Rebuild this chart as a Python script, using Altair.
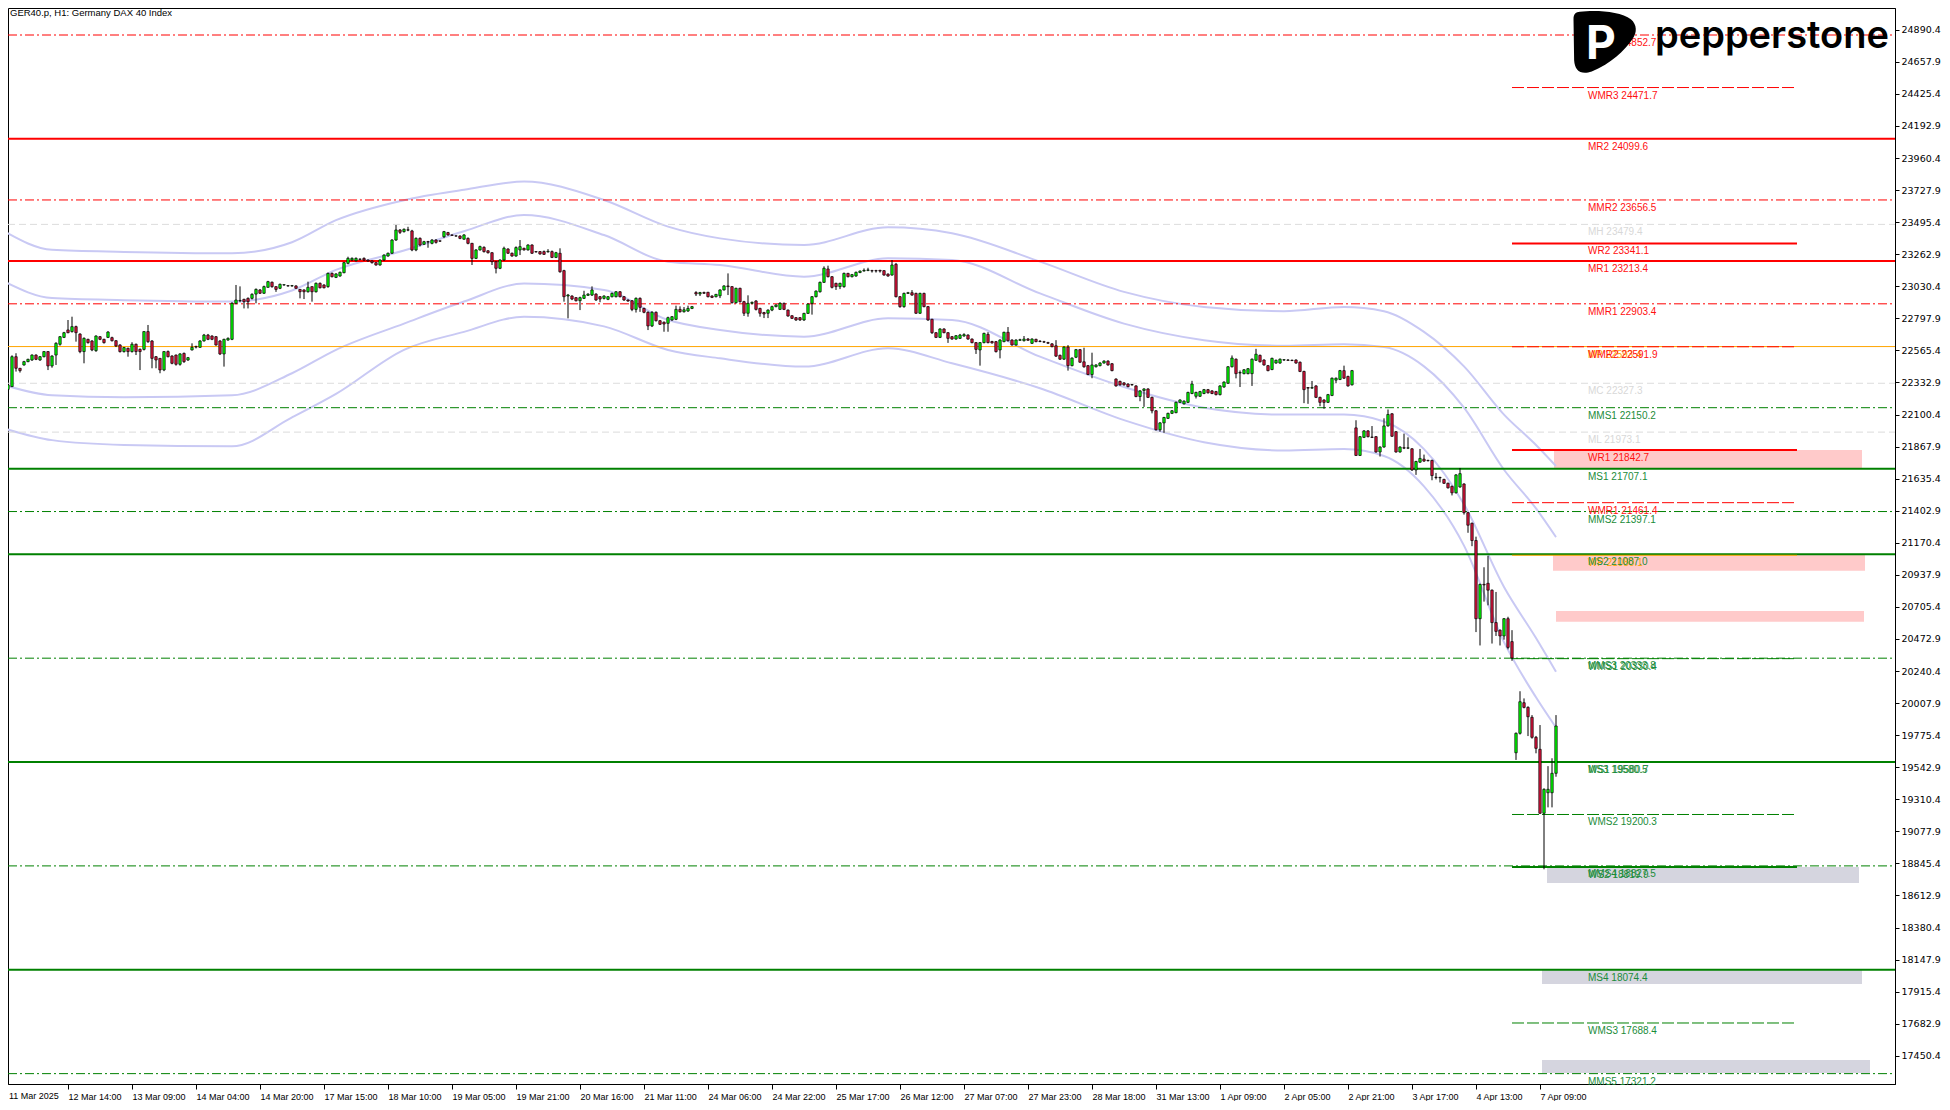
import json
import altair as alt
import pandas as pd

# ---------------- candle data (H1 bars, index 0 = first bar) ----------------
opens = [
    22340, 22283, 22303, 22520, 22436, 22460, 22484, 22496, 22532, 22496,
    22520, 22557, 22453, 22532, 22610, 22660, 22714, 22702, 22738, 22684,
    22557, 22646, 22634, 22564, 22665, 22646, 22660, 22658, 22636, 22605,
    22557, 22581, 22557, 22610, 22573, 22573, 22702, 22634, 22520, 22508,
    22424, 22557, 22525, 22532, 22465, 22544, 22496, 22569, 22593, 22588,
    22634, 22677, 22670, 22665, 22634, 22540, 22641, 22646, 22907, 22926,
    22936, 22943, 22943, 22974, 23004, 22980, 23023, 23060, 23028, 23016,
    23040, 23035, 23033, 23033, 23008, 23004, 22991, 23028, 22991, 23052,
    23040, 23028, 23124, 23095, 23105, 23129, 23197, 23221, 23216, 23228,
    23233, 23221, 23214, 23202, 23185, 23221, 23250, 23270, 23366, 23439,
    23427, 23440, 23432, 23294, 23378, 23335, 23354, 23342, 23366, 23360,
    23390, 23420, 23403, 23396, 23395, 23372, 23378, 23342, 23233, 23294,
    23313, 23288, 23274, 23209, 23161, 23221, 23301, 23270, 23250,
    23294, 23306, 23294, 23330, 23282, 23282, 23282, 23280, 23282, 23240,
    23270, 23144, 22960, 22960, 22948, 22926, 22943, 22965, 22967, 22974,
    22955, 22943, 22936, 22955, 22955, 22991, 22955, 22931, 22926, 22863,
    22943, 22870, 22842, 22743, 22842, 22781, 22770, 22762, 22786, 22791,
    22863, 22846, 22851, 22870, 22985, 22975, 22985, 22987, 22960, 22955,
    22962, 23004, 23033, 23028, 22912, 23016, 22919, 22835, 22907, 22924,
    22870, 22840, 22835, 22858, 22883, 22863, 22907, 22858, 22817, 22803,
    22803, 22786, 22834, 22907, 22955, 22991, 23059, 23156, 23100, 23052,
    23028, 23028, 23124, 23100, 23105, 23130, 23141, 23146, 23144, 23144,
    23146, 23144, 23119, 23112, 23190, 22955, 22883, 22979, 22984, 22979,
    22835, 22979, 22883, 22791, 22694, 22660, 22721, 22694, 22665, 22648,
    22653, 22670, 22677, 22648, 22622, 22569, 22622, 22682, 22630, 22629,
    22569, 22629, 22697, 22641, 22605, 22639, 22636, 22648, 22617, 22646,
    22632, 22628, 22622, 22613, 22599, 22530, 22502, 22590, 22455, 22516,
    22571, 22483, 22455, 22391, 22447, 22455, 22474, 22488, 22469, 22358,
    22341, 22330, 22322, 22318, 22308, 22231, 22275, 22286, 22225, 22128,
    21990, 22040, 22073, 22109, 22114, 22189, 22178, 22189, 22253, 22233,
    22233, 22253, 22281, 22272, 22267, 22245, 22300, 22327, 22447, 22502,
    22402, 22397, 22397, 22397, 22494, 22530, 22496, 22455, 22427, 22474,
    22474, 22496, 22496, 22494, 22496, 22480, 22413, 22296, 22292, 22308,
    22225, 22206, 22189, 22239, 22350, 22355, 22419, 22377, 22316, 22004,
    21804, 21935, 21982, 21937, 21940, 21829, 21865, 22018, 22106, 21976,
    21829, 21860, 21857, 21852, 21699, 21755, 21777, 21768, 21768, 21646,
    21644, 21630, 21602, 21580, 21533, 21575, 21597, 21389, 21312, 21187,
    20620, 20869, 20877, 20827, 20592, 20537, 20495, 20620, 20454, 19648,
    19789, 20011, 19977, 19905, 19760, 19673, 19209, 19358, 19358, 19499,
]
highs = [
    22350, 22315, 22530, 22545, 22436, 22490, 22505, 22537, 22537, 22525,
    22560, 22560, 22530, 22625, 22670, 22700, 22786, 22810, 22745, 22690,
    22660, 22650, 22640, 22675, 22670, 22650, 22705, 22665, 22640, 22610,
    22590, 22585, 22625, 22615, 22580, 22705, 22750, 22640, 22525, 22510,
    22560, 22565, 22530, 22535, 22545, 22550, 22518, 22617, 22600, 22640,
    22685, 22685, 22675, 22670, 22640, 22650, 22660, 22915, 23040, 23030,
    22940, 22950, 22980, 23015, 23010, 23035, 23070, 23065, 23030, 23050,
    23045, 23038, 23040, 23038, 23010, 23008, 23064, 23030, 23058, 23058,
    23045, 23130, 23130, 23125, 23137, 23207, 23245, 23240, 23240, 23232,
    23240, 23225, 23218, 23205, 23225, 23262, 23275, 23372, 23475, 23445,
    23450, 23462, 23440, 23385, 23385, 23360, 23360, 23372, 23372, 23362,
    23432, 23425, 23406, 23400, 23400, 23408, 23385, 23345, 23300, 23325,
    23320, 23292, 23278, 23212, 23226, 23318, 23306, 23275, 23320,
    23366, 23310, 23335, 23335, 23285, 23286, 23290, 23300, 23290, 23280,
    23306, 23150, 22975, 22965, 22952, 22955, 22998, 22980, 23030, 22980,
    22960, 22965, 22960, 22985, 22995, 22995, 22960, 22935, 22930, 22950,
    22950, 22875, 22848, 22850, 22848, 22785, 22775, 22810, 22815, 22890,
    22885, 22880, 22890, 22888, 22995, 22990, 22992, 22990, 22965, 22975,
    23008, 23038, 23124, 23032, 23020, 23020, 22925, 22965, 22920, 22930,
    22875, 22845, 22863, 22890, 22900, 22915, 22912, 22862, 22820, 22807,
    22807, 22838, 22906, 22960, 23000, 23065, 23175, 23180, 23105, 23056,
    23056, 23130, 23128, 23120, 23137, 23145, 23160, 23165, 23150, 23150,
    23150, 23148, 23124, 23221, 23200, 22960, 22985, 22990, 23003, 22984,
    22984, 22984, 22888, 22795, 22698, 22726, 22726, 22698, 22670, 22677,
    22685, 22690, 22682, 22652, 22626, 22626, 22694, 22698, 22635, 22634,
    22646, 22701, 22735, 22646, 22646, 22650, 22670, 22655, 22653, 22650,
    22640, 22635, 22628, 22618, 22640, 22535, 22595, 22604, 22515, 22576,
    22576, 22585, 22460, 22549, 22465, 22480, 22494, 22494, 22474, 22363,
    22346, 22335, 22327, 22322, 22313, 22277, 22291, 22291, 22230, 22133,
    22045, 22084, 22114, 22133, 22195, 22211, 22203, 22266, 22345, 22266,
    22272, 22286, 22286, 22277, 22272, 22313, 22341, 22452, 22529, 22507,
    22420, 22430, 22438, 22507, 22577, 22535, 22501, 22460, 22513, 22499,
    22507, 22502, 22502, 22499, 22501, 22485, 22418, 22300, 22344, 22313,
    22230, 22211, 22250, 22369, 22369, 22424, 22455, 22382, 22424, 22059,
    21945, 21987, 21987, 22017, 21945, 21870, 22073, 22137, 22111, 21981,
    21870, 21962, 21935, 21857, 21765, 21851, 21810, 21773, 21773, 21677,
    21650, 21635, 21607, 21585, 21668, 21713, 21602, 21394, 21317, 21215,
    20874, 20993, 21076, 20832, 20814, 20542, 20625, 20634, 20537, 19795,
    20094, 20042, 19985, 19921, 19770, 19849, 19390, 19551, 19608, 19921,
]
lows = [
    22290, 22230, 22300, 22412, 22405, 22455, 22480, 22490, 22495, 22490,
    22515, 22423, 22440, 22460, 22600, 22655, 22690, 22695, 22629, 22545,
    22472, 22615, 22560, 22555, 22640, 22615, 22655, 22630, 22590, 22550,
    22550, 22520, 22550, 22532, 22423, 22565, 22620, 22436, 22436, 22400,
    22415, 22515, 22465, 22455, 22455, 22475, 22490, 22565, 22580, 22585,
    22630, 22640, 22640, 22600, 22532, 22448, 22635, 22640, 22900, 22915,
    22870, 22870, 22935, 22907, 22975, 22975, 23020, 23020, 22990, 23010,
    23035, 23028, 23028, 23012, 22943, 22938, 22985, 22919, 22985, 23015,
    23015, 23020, 23095, 23090, 23100, 23125, 23190, 23215, 23210, 23220,
    23215, 23210, 23195, 23180, 23180, 23215, 23245, 23265, 23360, 23410,
    23420, 23430, 23285, 23285, 23320, 23330, 23310, 23335, 23340, 23352,
    23380, 23398, 23396, 23390, 23372, 23368, 23335, 23185, 23228, 23290,
    23275, 23268, 23185, 23124, 23155, 23215, 23265, 23245, 23245,
    23257, 23290, 23290, 23265, 23275, 23260, 23258, 23275, 23235, 23235,
    23129, 22919, 22798, 22930, 22920, 22858, 22938, 22960, 22960, 22925,
    22915, 22935, 22930, 22950, 22950, 22950, 22925, 22918, 22850, 22840,
    22845, 22835, 22713, 22735, 22775, 22750, 22701, 22701, 22780, 22785,
    22840, 22840, 22845, 22865, 22960, 22960, 22975, 22950, 22945, 22950,
    22945, 23000, 22967, 22905, 22905, 22912, 22815, 22810, 22900, 22855,
    22810, 22800, 22800, 22850, 22878, 22860, 22858, 22810, 22793, 22780,
    22780, 22780, 22830, 22825, 22950, 22985, 23055, 23095, 23015, 23004,
    23010, 23020, 23095, 23095, 23100, 23126, 23138, 23140, 23130, 23130,
    23130, 23108, 23100, 23108, 22950, 22875, 22875, 22975, 22962, 22830,
    22830, 22878, 22780, 22685, 22655, 22655, 22690, 22620, 22643, 22643,
    22648, 22665, 22643, 22617, 22540, 22455, 22617, 22617, 22615, 22550,
    22508, 22625, 22630, 22600, 22600, 22635, 22630, 22635, 22612, 22625,
    22625, 22620, 22612, 22588, 22518, 22497, 22497, 22419, 22450, 22510,
    22475, 22440, 22386, 22364, 22442, 22450, 22470, 22455, 22414, 22303,
    22310, 22310, 22298, 22310, 22226, 22197, 22156, 22220, 22109, 21985,
    21976, 21968, 22068, 22104, 22110, 22184, 22173, 22184, 22248, 22217,
    22228, 22248, 22253, 22248, 22239, 22239, 22295, 22322, 22442, 22363,
    22300, 22392, 22392, 22308, 22489, 22478, 22455, 22414, 22422, 22469,
    22469, 22490, 22490, 22488, 22469, 22408, 22183, 22178, 22288, 22220,
    22161, 22142, 22184, 22234, 22327, 22350, 22358, 22303, 22311, 21800,
    21800, 21930, 21935, 21930, 21824, 21796, 21860, 22013, 21938, 21824,
    21824, 21850, 21850, 21691, 21663, 21750, 21758, 21760, 21624, 21630,
    21608, 21597, 21564, 21514, 21528, 21570, 21375, 21243, 21146, 20523,
    20426, 20744, 20717, 20440, 20495, 20426, 20468, 20398, 20315, 19596,
    19780, 19970, 19769, 19750, 19644, 19205, 18803, 19252, 19252, 19474,
]
closes = [
    22300, 22315, 22520, 22436, 22419, 22484, 22501, 22532, 22501, 22520,
    22557, 22453, 22525, 22617, 22665, 22694, 22694, 22738, 22694, 22557,
    22653, 22622, 22569, 22670, 22646, 22622, 22699, 22636, 22598, 22557,
    22586, 22557, 22610, 22557, 22557, 22702, 22629, 22508, 22496, 22424,
    22557, 22520, 22472, 22465, 22540, 22484, 22513, 22588, 22590, 22634,
    22677, 22646, 22646, 22605, 22540, 22646, 22653, 22907, 22931, 22928,
    22919, 22919, 22972, 23008, 22980, 23028, 23064, 23028, 23008, 23045,
    23042, 23033, 23035, 23016, 22991, 22991, 23023, 22991, 23052, 23020,
    23020, 23124, 23100, 23120, 23132, 23202, 23233, 23233, 23233, 23226,
    23221, 23214, 23202, 23185, 23221, 23257, 23270, 23366, 23439, 23422,
    23444, 23438, 23294, 23378, 23330, 23354, 23352, 23366, 23349, 23358,
    23427, 23403, 23400, 23395, 23378, 23403, 23342, 23233, 23294, 23318,
    23282, 23274, 23209, 23161, 23221, 23306, 23270, 23250, 23311,
    23318, 23294, 23330, 23270, 23280, 23265, 23262, 23284, 23240, 23274,
    23136, 22955, 22967, 22938, 22926, 22948, 22967, 22974, 23004, 22931,
    22938, 22960, 22955, 22979, 22991, 22955, 22931, 22924, 22863, 22943,
    22878, 22842, 22743, 22842, 22781, 22755, 22757, 22803, 22810, 22863,
    22846, 22860, 22870, 22883, 22975, 22985, 22980, 22955, 22950, 22972,
    23004, 23033, 23028, 22912, 23016, 22919, 22835, 22907, 22914, 22863,
    22835, 22830, 22858, 22883, 22895, 22907, 22863, 22815, 22798, 22786,
    22786, 22834, 22902, 22955, 22996, 23059, 23161, 23100, 23023, 23028,
    23052, 23124, 23100, 23115, 23132, 23141, 23146, 23149, 23142, 23142,
    23141, 23112, 23105, 23185, 22955, 22883, 22979, 22984, 22967, 22835,
    22979, 22883, 22786, 22694, 22660, 22721, 22694, 22653, 22648, 22672,
    22677, 22680, 22648, 22622, 22573, 22622, 22689, 22622, 22620, 22557,
    22641, 22697, 22636, 22605, 22641, 22643, 22648, 22639, 22648, 22629,
    22630, 22626, 22618, 22593, 22524, 22502, 22590, 22455, 22510, 22571,
    22480, 22447, 22391, 22460, 22460, 22474, 22488, 22460, 22419, 22308,
    22316, 22316, 22303, 22316, 22231, 22272, 22286, 22225, 22128, 21990,
    22040, 22079, 22109, 22128, 22189, 22206, 22198, 22261, 22322, 22261,
    22267, 22281, 22258, 22253, 22245, 22308, 22336, 22447, 22510, 22397,
    22405, 22425, 22433, 22502, 22538, 22483, 22460, 22419, 22508, 22494,
    22502, 22498, 22494, 22492, 22474, 22413, 22281, 22292, 22296, 22225,
    22189, 22189, 22245, 22364, 22364, 22419, 22364, 22308, 22419, 21804,
    21940, 21982, 21940, 21935, 21829, 21865, 22018, 22101, 21943, 21829,
    21865, 21857, 21859, 21699, 21760, 21782, 21763, 21766, 21658, 21644,
    21642, 21602, 21569, 21533, 21663, 21672, 21389, 21298, 21187, 20620,
    20869, 20865, 20827, 20592, 20528, 20495, 20620, 20412, 20335, 19789,
    20018, 19977, 19909, 19760, 19680, 19209, 19383, 19383, 19499, 19842,
]

# ---------------- time axis labels ----------------
tick_bars = [0, 16, 32, 48, 64, 80, 96, 112, 128, 144, 160, 176, 192, 208, 224,
             240, 256, 272, 288, 304, 320, 336, 352, 368, 384]
tick_labels = ["11 Mar 2025", "12 Mar 14:00", "13 Mar 09:00", "14 Mar 04:00", "14 Mar 20:00",
               "17 Mar 15:00", "18 Mar 10:00", "19 Mar 05:00", "19 Mar 21:00", "20 Mar 16:00",
               "21 Mar 11:00", "24 Mar 06:00", "24 Mar 22:00", "25 Mar 17:00", "26 Mar 12:00",
               "27 Mar 07:00", "27 Mar 23:00", "28 Mar 18:00", "31 Mar 13:00", "1 Apr 09:00",
               "2 Apr 05:00", "2 Apr 21:00", "3 Apr 17:00", "4 Apr 13:00", "7 Apr 09:00"]

price_ticks = [17450.4, 17682.9, 17915.4, 18147.9, 18380.4, 18612.9, 18845.4, 19077.9,
               19310.4, 19542.9, 19775.4, 20007.9, 20240.4, 20472.9, 20705.4, 20937.9,
               21170.4, 21402.9, 21635.4, 21867.9, 22100.4, 22332.9, 22565.4, 22797.9,
               23030.4, 23262.9, 23495.4, 23727.9, 23960.4, 24192.9, 24425.4, 24657.9,
               24890.4]

# ---------------- band lines (read at sample bars) ----------------
band_bars = [0, 12, 30, 57, 72, 83, 100, 115, 130, 150, 166, 179, 200, 221, 237,
             259, 280, 300, 320, 335, 345, 355, 365, 375, 383, 388]
band_outer_up = [23430, 23295, 23280, 23270, 23350, 23510, 23655, 23730, 23790, 23656, 23463,
                 23378, 23330, 23458, 23415, 23209, 22990, 22880, 22850, 22880, 22850, 22700,
                 22450, 22100, 21880, 21727]
band_inner_up = [23065, 22945, 22930, 22920, 23000, 23150, 23290, 23430, 23547, 23402, 23209,
                 23185, 23100, 23233, 23221, 22979, 22760, 22640, 22600, 22610, 22590, 22450,
                 22150, 21700, 21420, 21212]
band_inner_dn = [22315, 22240, 22225, 22240, 22400, 22570, 22760, 22920, 23050, 23004, 22786,
                 22714, 22665, 22798, 22786, 22520, 22300, 22150, 22100, 22100, 22050, 21850,
                 21450, 20850, 20480, 20236]
band_outer_dn = [22000, 21915, 21880, 21870, 22080, 22250, 22570, 22700, 22810, 22740, 22569,
                 22508, 22448, 22581, 22472, 22291, 22060, 21900, 21840, 21850, 21800, 21580,
                 21150, 20450, 20050, 19831]

# ---------------- pivot levels ----------------
m_main_names = ["MR2", "MR1", "MS1", "MS2", "MS3", "MS4"]
m_main_values = [24099.6, 23213.4, 21707.1, 21087.0, 19580.5, 18074.4]
m_mid_names = ["MMR3", "MMR2", "MMR1", "MMS1", "MMS2", "MMS3", "MMS4", "MMS5"]
m_mid_values = [24852.7, 23656.5, 22903.4, 22150.2, 21397.1, 20333.8, 18827.5, 17321.2]
m_range_names = ["MH", "MC", "ML"]
m_range_values = [23479.4, 22327.3, 21973.1]
m_pivot_names = ["MP"]
m_pivot_values = [22593.4]
w_main_names = ["WR2", "WR1", "WS1", "WS2"]
w_main_values = [23341.1, 21842.7, 19580.7, 18819.9]
w_mid_names = ["WMR3", "WMR2", "WMR1", "WMS1", "WMS2", "WMS3"]
w_mid_values = [24471.7, 22591.9, 21461.4, 20330.4, 19200.3, 17688.4]
w_pivot_names = ["WP"]
w_pivot_values = [21080.1]
week_from_bar = [377.0]
week_to_bar = [448.25]

# ---------------- zones ----------------
zone_from = [387.5, 387.25, 388.0, 385.75, 384.5, 384.5]
zone_to = [464.5, 465.25, 465.0, 463.75, 464.5, 466.5]
zone_low = [21712.8, 20968.0, 20598.0, 18703.4, 17970.9, 17325.5]
zone_high = [21843.3, 21087.0, 20676.0, 18819.4, 18079.7, 17419.8]
zone_kind = ["sell", "sell", "sell", "buy", "buy", "buy"]

title_text = "GER40.p, H1:  Germany DAX 40 Index"
brand_text = "pepperstone"

# ---------------- chart ----------------
W, H = 1887, 1076
xs = alt.Scale(domain=[1.0, 472.75], nice=False, zero=False, padding=0)
ys = alt.Scale(domain=[17246.0, 25048.5], nice=False, zero=False, padding=0)

RED, GREEN, ORANGE, GRAY = "#ff0000", "#008000", "#ffa500", "#dcdcdc"
LBL_RED, LBL_GREEN, LBL_GRAY = "#ff1010", "#1b8c3a", "#d8d8d8"

label_expr = "{}[indexof({}, datum.value)]".format(json.dumps(tick_labels), json.dumps(tick_bars))
X_AXIS = alt.Axis(values=tick_bars[1:], labelExpr=label_expr, labelAlign="left",
                  labelBaseline="top", labelPadding=3, labelFont="Liberation Sans",
                  labelFontSize=9, labelColor="black", tickColor="black", tickSize=5,
                  domainColor="black", grid=False, title=None, labelOverlap=False,
                  labelFlush=False, labelBound=False)
Y_AXIS = alt.Axis(orient="right", values=price_ticks, format=".1f", labelFont="DejaVu Sans",
                  labelFontSize=9.5, labelColor="black", tickColor="black", tickSize=4,
                  labelPadding=2, domainColor="black", grid=False, title=None,
                  labelOverlap=False, labelFlush=False, labelBound=False)


def X(field):
    return alt.X(field, scale=xs, axis=X_AXIS)


def Y(field):
    return alt.Y(field, scale=ys, axis=Y_AXIS)


def kind_of(name):
    if name in ("MP", "WP"):
        return "P"
    if name in ("MH", "MC", "ML"):
        return "N"
    return "R" if "R" in name else "S"


line_col = {"R": RED, "S": GREEN, "P": ORANGE, "N": GRAY}
text_col = {"R": LBL_RED, "S": LBL_GREEN, "P": ORANGE, "N": LBL_GRAY}

layers = []

# zones
zdf = pd.DataFrame({"a": zone_from, "b": zone_to, "lo": zone_low, "hi": zone_high, "k": zone_kind})
for k, col in (("sell", "#ffcaca"), ("buy", "#d5d5df")):
    sub = zdf[zdf.k == k]
    layers.append(alt.Chart(sub).mark_rect(color=col, clip=True).encode(
        x=X("a:Q"), x2="b:Q", y=Y("lo:Q"), y2="hi:Q"))

# bands
bdf = pd.concat([
    pd.DataFrame({"i": band_bars, "v": vals, "s": name})
    for name, vals in (("a", band_outer_up), ("b", band_inner_up),
                       ("c", band_inner_dn), ("d", band_outer_dn))
])
layers.append(alt.Chart(bdf).mark_line(color="#c9c9f4", strokeWidth=2, interpolate="monotone",
                                        clip=True).encode(
    x=X("i:Q"), y=Y("v:Q"), detail="s:N"))


def level_layers(names, values, width, dash, full):
    out = []
    df = pd.DataFrame({"name": names, "price": values})
    df["k"] = [kind_of(n) for n in names]
    for k, sub in df.groupby("k"):
        kw = dict(color=line_col[k], strokeWidth=width, clip=True)
        if dash:
            kw["strokeDash"] = dash
        if full:
            ch = alt.Chart(sub).mark_rule(**kw).encode(
                y=Y("price:Q"), x=alt.value(0), x2=alt.value(W))
        else:
            sub = sub.assign(a=week_from_bar[0], b=week_to_bar[0])
            ch = alt.Chart(sub).mark_rule(**kw).encode(
                y=Y("price:Q"), x=X("a:Q"), x2="b:Q")
        out.append(ch)
    return out


layers += level_layers(m_range_names, m_range_values, 1, [7, 4], True)
layers += level_layers(m_mid_names, m_mid_values, 1, [9, 3, 2, 3], True)
layers += level_layers(m_pivot_names, m_pivot_values, 1, None, True)
layers += level_layers(m_main_names, m_main_values, 2, None, True)
layers += level_layers(w_mid_names, w_mid_values, 1, [12, 3], False)
layers += level_layers(w_pivot_names, w_pivot_values, 1, None, False)
layers += level_layers(w_main_names, w_main_values, 2, None, False)

# candles
cdf = pd.DataFrame({"i": list(range(len(opens))), "open": opens, "high": highs,
                    "low": lows, "close": closes})
cdf["dir"] = ["up" if c >= o else "down" for o, c in zip(opens, closes)]

layers.append(alt.Chart(cdf).mark_rule(color="black", strokeWidth=1, clip=True).encode(
    x=X("i:Q"), y=Y("low:Q"), y2="high:Q"))
layers.append(alt.Chart(cdf).mark_bar(size=2.4, stroke="black", strokeWidth=0.7, clip=True).encode(
    x=X("i:Q"), y=Y("open:Q"), y2="close:Q",
    color=alt.Color("dir:N", scale=alt.Scale(domain=["up", "down"], range=["#00ff00", "#dc143c"]),
                    legend=None)))

# level labels
all_names = (m_range_names + m_mid_names + m_pivot_names + m_main_names
             + w_mid_names + w_pivot_names + w_main_names)
all_values = (m_range_values + m_mid_values + m_pivot_values + m_main_values
              + w_mid_values + w_pivot_values + w_main_values)
ldf = pd.DataFrame({"price": all_values,
                    "label": [f"{n} {v:.1f}" for n, v in zip(all_names, all_values)],
                    "k": [kind_of(n) for n in all_names]})
for k in ("N", "P", "R", "S"):
    sub = ldf[ldf.k == k]
    layers.append(alt.Chart(sub).mark_text(align="left", baseline="alphabetic", dy=11,
                                           font="Liberation Sans", fontSize=10,
                                           color=text_col[k]).encode(
        x=alt.value(1580), y=Y("price:Q"), text="label:N"))

# first time label (its bar sits on the left frame)
layers.append(alt.Chart(pd.DataFrame({"t": [tick_labels[0]]})).mark_text(
    align="left", baseline="top", font="Liberation Sans", fontSize=9, color="black").encode(
    x=alt.value(1), y=alt.value(H + 8), text="t:N"))

# title
layers.append(alt.Chart(pd.DataFrame({"t": [title_text]})).mark_text(
    align="left", baseline="alphabetic", font="Liberation Sans", fontSize=9.5, color="black").encode(
    x=alt.value(2), y=alt.value(8), text="t:N"))

# logo
logo_path = ("M -0.8 -0.96 C -0.3 -1.02 0.5 -0.98 0.82 -0.72 C 1.02 -0.55 1.02 -0.3 0.88 -0.1 "
             "C 0.6 0.3 0.2 0.68 -0.42 0.94 C -0.78 1.06 -0.96 0.9 -0.98 0.58 L -1 -0.72 "
             "C -1 -0.9 -0.92 -0.95 -0.8 -0.96 Z")
one = pd.DataFrame({"t": [brand_text]})
layers.append(alt.Chart(one).mark_point(shape=logo_path, size=3969, filled=True, color="black",
                                        opacity=1, strokeWidth=0).encode(
    x=alt.value(1597), y=alt.value(34)))
layers.append(alt.Chart(one).mark_text(text="P", align="center", baseline="alphabetic",
                                       font="Inter", fontSize=46, fontWeight=700,
                                       color="white").encode(
    x=alt.value(1593), y=alt.value(51)))
layers.append(alt.Chart(one).mark_text(align="left", baseline="alphabetic", font="Inter",
                                       fontSize=38, fontWeight=600, color="black").encode(
    x=alt.value(1647), y=alt.value(40), text="t:N"))

chart = alt.layer(*layers).properties(width=W, height=H, padding=0, background="white").configure_view(
    stroke="black", strokeWidth=1)

chart.save("out.html", embed_options={"renderer": "svg", "actions": False})
